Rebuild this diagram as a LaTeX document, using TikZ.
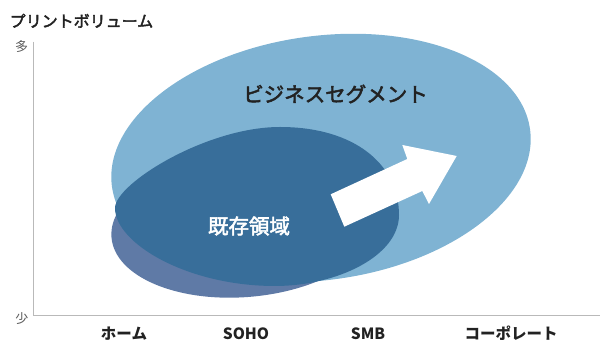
\documentclass[tikz,border=0pt]{standalone}
\usepackage{fontspec}
\setmainfont{Noto Sans CJK JP}
\newfontfamily\jpmed[FakeBold=2.5]{Noto Sans CJK JP}
\definecolor{bigblue}{RGB}{127,179,211}
\definecolor{darkblue}{RGB}{56,110,154}
\definecolor{purpleblue}{RGB}{95,122,166}
\definecolor{axisgray}{RGB}{185,185,185}
\definecolor{tickgray}{RGB}{90,90,90}
\definecolor{textdark}{RGB}{34,34,34}
\tikzset{
  axisline/.style={draw=axisgray, line width=1.1pt},
  xlab/.style={font=\fontsize{15.5}{16}\selectfont\bfseries, text=textdark, inner sep=0pt},
  ticklab/.style={font=\fontsize{13}{14}\selectfont, text=tickgray, inner sep=0pt},
}
\begin{document}
\begin{tikzpicture}[x=1pt,y=1pt]
\useasboundingbox (0,0) rectangle (600,342);
% lower (purple) region
\fill[purpleblue, rotate around={5:(245,116)}] (245,116) ellipse [x radius=134pt, y radius=71pt];
% business segment
\fill[bigblue, rotate around={7.8:(321,184)}] (321,184) ellipse [x radius=211pt, y radius=122pt];
% existing domain
\fill[darkblue] (115,134) .. controls (115,158) and (206,215) .. (280,215)
  .. controls (354,215) and (399,178) .. (399,127)
  .. controls (399,86) and (337,56) .. (275,56)
  .. controls (187,56) and (115,98.9) .. (115,134) -- cycle;
% arrow
\fill[white] (330.7,147.7) -- (407.3,183) -- (402.3,197) -- (456.7,186) -- (429,138) -- (422.3,151) -- (344.3,115.3) -- cycle;
% axes
\coordinate (ytop) at (33.3,300.3);
\coordinate (origin) at (33.3,26.3);
\coordinate (xend) at (600,26.3);
\draw[axisline] (ytop) -- (origin) -- (xend);
% texts
\node[anchor=west, inner sep=0pt, font=\jpmed\fontsize{16}{17}\selectfont, text=textdark] (ylabel) at (9.5,321.2) {プリントボリューム};
\node[ticklab] (many) at (21.5,295.5) {多};
\node[ticklab] (few) at (22,23) {少};
\node[xlab] (home) at (124,8.5) {ホーム};
\node[xlab] (soho) at (246,8.5) {SOHO};
\node[xlab] (smb) at (368,8.5) {SMB};
\node[xlab] (corp) at (511,8.5) {コーポレート};
\node[inner sep=0pt, font=\jpmed\fontsize{20.5}{22}\selectfont, text=textdark] (biz) at (335.5,248) {ビジネスセグメント};
\node[inner sep=0pt, font=\jpmed\fontsize{20.5}{22}\selectfont, text=white] (exist) at (249,116) {既存領域};
\end{tikzpicture}
\end{document}
